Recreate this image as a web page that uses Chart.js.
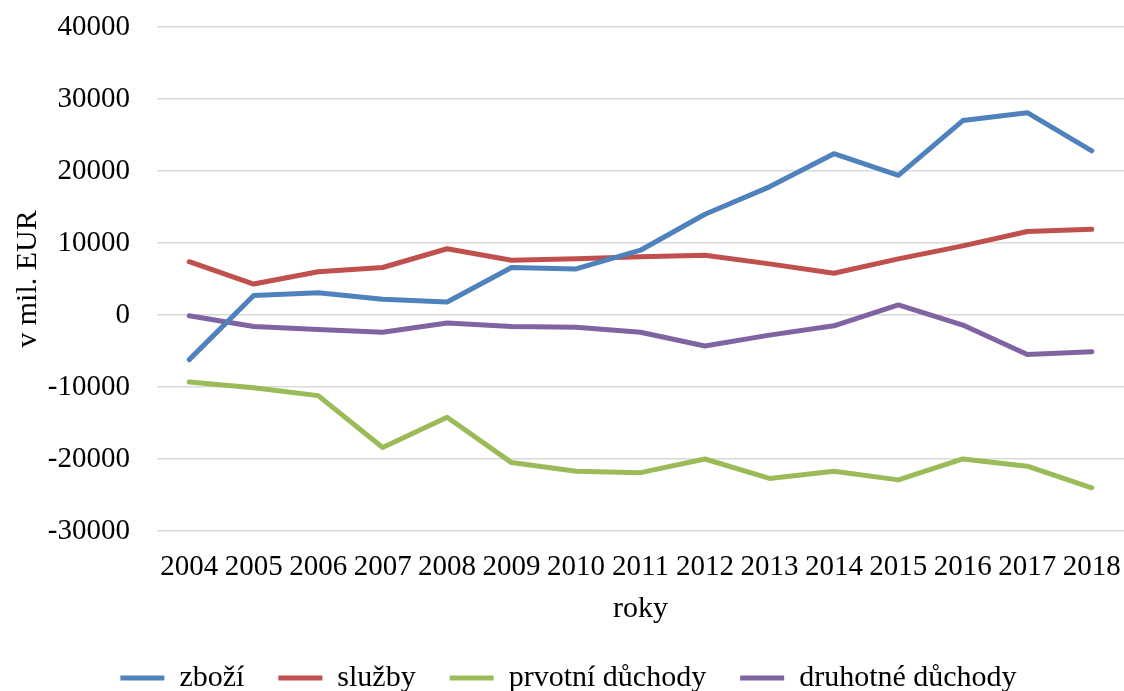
<!DOCTYPE html>
<html>
<head>
<meta charset="utf-8">
<script src="https://cdn.jsdelivr.net/npm/chart.js@4"></script>
<style>
  html, body { margin: 0; padding: 0; background: #fff; }
  #wrap { width: 1124px; height: 691px; }
</style>
</head>
<body>
<div id="wrap"><canvas id="chart"></canvas></div>
<script>
const years = ['2004', '2005', '2006', '2007', '2008', '2009', '2010', '2011',
  '2012', '2013', '2014', '2015', '2016', '2017', '2018'];

// v mil. EUR
const zbozi = [-6200, 2700, 3100, 2200, 1800, 6600, 6400, 9000,
  14000, 17800, 22400, 19400, 27000, 28100, 22800];
const sluzby = [7400, 4300, 6000, 6600, 9200, 7600, 7800, 8100,
  8300, 7100, 5800, 7800, 9600, 11600, 11900];
const prvotni = [-9300, -10100, -11200, -18400, -14200, -20500, -21700, -21900,
  -20000, -22700, -21700, -22900, -20000, -21000, -24000];
const druhotne = [-100, -1600, -2000, -2400, -1100, -1600, -1700, -2400,
  -4300, -2800, -1500, 1400, -1400, -5500, -5100];

const yTicks = [-30000, -20000, -10000, 0, 10000, 20000, 30000, 40000];

const FONT = "'Liberation Serif', 'Times New Roman', serif";
const TEXT = '#000';

function line(label, data, color) {
  return {
    label, data,
    borderColor: color,
    backgroundColor: color,
    borderWidth: 5,
    borderCapStyle: 'round',
    borderJoinStyle: 'round',
    pointRadius: 0,
    tension: 0,
    fill: false
  };
}

new Chart(document.getElementById('chart'), {
  type: 'line',
  data: {
    labels: years,
    datasets: [
      line('zboží', zbozi, '#4f81bd'),
      line('služby', sluzby, '#c0504d'),
      line('prvotní důchody', prvotni, '#9bbb59'),
      line('druhotné důchody', druhotne, '#8064a2')
    ]
  },
  options: {
    responsive: true,
    maintainAspectRatio: false,
    animation: false,
    layout: { padding: { top: 0, right: -3, bottom: -12, left: 10 } },
    plugins: {
      tooltip: { enabled: false },
      legend: {
        position: 'bottom',
        labels: {
          usePointStyle: true,
          pointStyle: 'line',
          pointStyleWidth: 44,
          color: TEXT,
          font: { family: FONT, size: 30 },
          padding: 34
        }
      }
    },
    scales: {
      x: {
        offset: true,
        grid: { display: false, drawTicks: false },
        border: { display: false },
        ticks: {
          color: TEXT,
          font: { family: FONT, size: 29, lineHeight: 2.345 },
          maxRotation: 0,
          autoSkip: false,
          padding: 2
        },
        title: {
          display: true,
          text: 'roky',
          color: TEXT,
          font: { family: FONT, size: 30, lineHeight: 0.4 },
          padding: { top: 0, bottom: 14 }
        }
      },
      y: {
        min: -30000,
        max: 40000,
        afterBuildTicks: axis => { axis.ticks = yTicks.map(v => ({ value: v })); },
        afterFit: axis => { axis.width = 147; },
        grid: { color: '#d9d9d9', lineWidth: 1.5, drawTicks: false },
        border: { display: false },
        ticks: {
          color: TEXT,
          font: { family: FONT, size: 29, lineHeight: 0 },
          padding: 27,
          callback: v => String(v)
        },
        title: {
          display: true,
          text: 'v mil. EUR',
          color: TEXT,
          font: { family: FONT, size: 30 },
          padding: 0
        }
      }
    }
  }
});
</script>
</body>
</html>
